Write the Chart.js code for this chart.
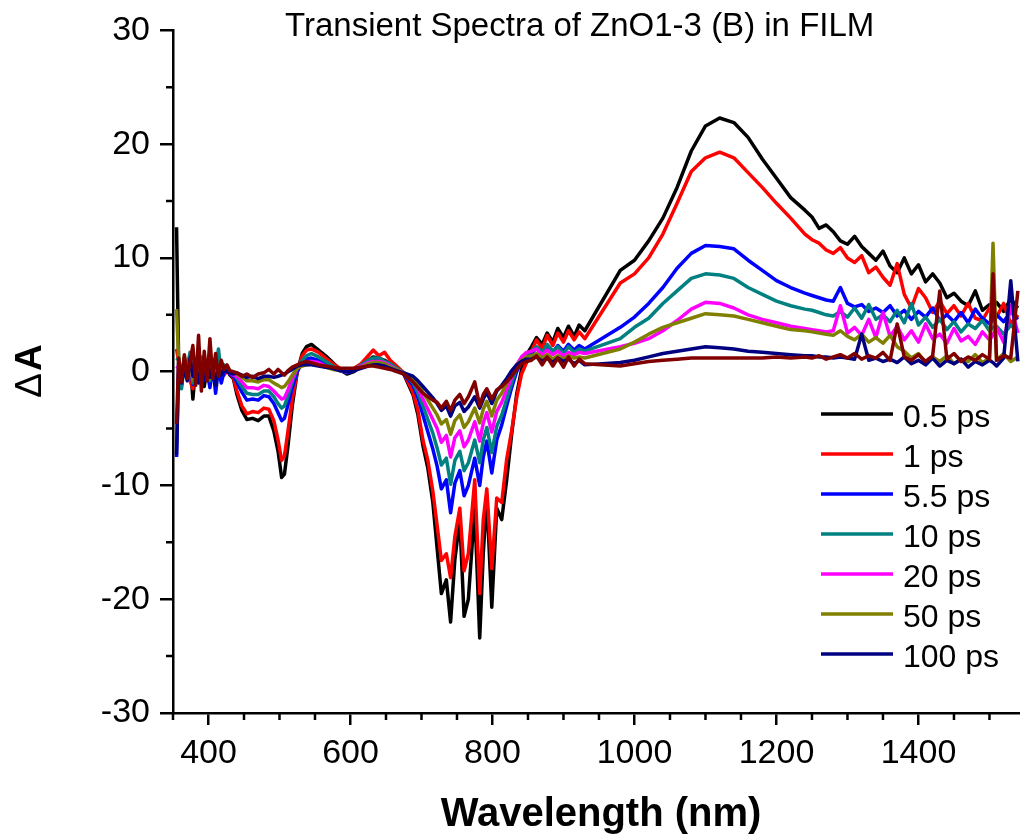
<!DOCTYPE html>
<html>
<head>
<meta charset="utf-8">
<title>Transient Spectra of ZnO1-3 (B) in FILM</title>
<script src="https://cdn.jsdelivr.net/npm/chart.js@4.4.1/dist/chart.umd.min.js"></script>
<style>
  body { margin: 0; background: #fff; }
</style>
</head>
<body>
<canvas id="spectra" width="1020" height="836"></canvas>
<script>
// wavelength grid (nm); no data between 930 and 980
const wavelengths = [
  355, 358, 362, 366, 370, 374, 378, 382, 386, 390, 394, 398, 402, 406, 410, 414, 418, 422, 426, 430, 435,
  440, 447, 454, 462, 470, 478, 485, 492, 498, 503, 507, 512, 518, 525, 532, 538, 545, 555, 565, 575, 585, 595, 605, 615, 625, 632, 640, 648, 656, 665, 675,
  688, 695, 702, 709, 716, 722, 728, 735, 741, 747, 754, 760, 766, 775, 782, 787, 792, 799, 806, 813, 820, 827, 834, 841, 848,
  855, 862, 870, 877, 885, 892, 900, 907, 915, 922, 930,
  980, 1000, 1020, 1040, 1060, 1080, 1100, 1120, 1140, 1160, 1180, 1200, 1220, 1240,
  1250, 1260, 1270, 1280, 1290, 1300, 1310, 1320, 1330, 1340, 1350, 1360, 1370, 1380, 1390, 1400, 1410, 1420, 1430, 1440, 1450, 1460, 1470, 1480, 1490, 1500, 1505, 1510, 1520, 1530, 1540
];

// delta A values for each delay
const ps0_5 = [
  12.7, 0.6, -1.2, 0.9, -0.4, 1.1, -2.4, 0.5, -0.9, 1.0, -1.3, 0.3, -0.7, 0.8, -0.4, 0.6, -0.6, 0.2, 0.3, -0.3, -0.6,
  -2.0, -3.4, -4.2, -4.1, -4.3, -3.9, -3.9, -5.2, -7.0, -9.3, -9.0, -6.5, -3.0, 0.0, 1.6, 2.2, 2.4, 1.9, 1.4, 0.8, 0.2, -0.2, 0.0, 0.5, 1.0, 1.3, 1.2, 1.0, 0.7, 0.3, -0.2,
  -2.0, -3.8, -6.5, -8.5, -11.5, -15.5, -19.5, -18.3, -22.0, -16.5, -13.0, -21.5, -20.0, -12.0, -23.4, -16.0, -11.0, -20.7, -12.0, -13.0, -9.5, -5.5, -2.0, 0.2, 1.5,
  2.2, 3.0, 2.4, 3.4, 2.6, 3.8, 3.0, 4.0, 3.1, 4.1, 3.6,
  8.9, 9.8, 11.5, 13.5, 16.2, 19.4, 21.6, 22.3, 21.9, 20.6, 18.7, 17.0, 15.3, 14.2,
  13.6, 12.6, 12.9, 12.3, 11.5, 11.2, 11.9, 11.0, 10.4, 9.8, 10.6, 9.3, 8.7, 10.0, 8.6, 9.4, 7.9, 8.6, 7.8, 6.5, 6.9, 6.2, 5.8, 7.1, 5.4, 5.9, 5.7, 6.1, 5.3, 6.4, 5.6
];
const ps1 = [
  2.0, 0.9, -0.5, 1.2, 0.2, -0.8, -1.5, 1.0, 0.1, -0.9, 0.6, -0.4, 0.7, -0.5, 0.4, -0.2, 0.5, -0.3, 0.1, -0.2, -0.5,
  -1.7, -3.0, -3.7, -3.5, -3.6, -3.2, -3.3, -4.3, -6.0, -7.8, -7.4, -5.2, -2.4, 0.0, 1.4, 1.9, 2.0, 1.7, 1.2, 0.7, 0.3, 0.0, 0.3, 0.7, 1.4, 1.9, 1.4, 1.7, 1.0, 0.5, -0.1,
  -1.8, -3.4, -6.0, -7.8, -10.5, -13.5, -16.6, -16.0, -18.1, -14.5, -12.0, -17.5, -16.0, -9.5, -19.5, -13.0, -10.3, -17.3, -11.1, -11.5, -7.7, -5.2, -2.3, -0.2, 0.8,
  1.8, 2.8, 2.0, 3.2, 2.3, 3.4, 2.6, 3.6, 2.8, 3.5, 2.9,
  7.8, 8.6, 10.0, 12.1, 14.8, 17.6, 18.8, 19.3, 18.8, 17.5, 16.2, 14.8, 13.5, 12.1,
  11.6, 11.3, 10.7, 10.4, 10.9, 10.0, 9.6, 10.2, 8.7, 9.2, 8.3, 7.6, 9.5, 6.8, 5.6, 7.3, 6.5, 5.2, 6.2, 5.1, 5.8, 4.9, 6.0, 4.7, 4.5, 5.6, 5.2, 4.8, 6.0, 4.2, 5.0
];
const ps5_5 = [
  -7.5, 0.6, -1.2, 1.0, -0.5, 0.8, -1.1, 0.5, -0.3, 1.1, -0.7, 0.2, -1.4, 0.6, -1.9, 0.3, -1.0, 0.0, 0.2, -0.2, -0.4,
  -0.9, -1.8, -2.5, -2.4, -2.5, -2.1, -2.2, -2.8, -3.6, -4.3, -4.1, -2.9, -1.4, 0.0, 0.8, 1.1, 1.2, 1.0, 0.7, 0.4, 0.1, -0.1, 0.1, 0.5, 0.9, 1.0, 1.0, 0.8, 0.6, 0.2, -0.2,
  -1.2, -2.3, -3.8, -5.3, -6.8, -8.3, -10.3, -9.5, -12.4, -9.8, -8.7, -10.9, -10.0, -7.6, -10.0, -7.5, -6.1, -8.9, -6.0, -4.7, -3.0, -1.4, 0.0, 0.9, 1.5,
  1.6, 2.1, 1.6, 2.2, 1.7, 2.3, 1.8, 2.4, 1.9, 2.3, 2.0,
  3.9, 4.8, 6.0, 7.4, 9.1, 10.4, 11.1, 11.0, 10.8, 9.8, 8.9, 8.0, 7.4, 6.9,
  6.7, 6.5, 6.3, 6.2, 7.4, 6.0, 5.7, 5.9, 5.3, 5.6, 5.2, 5.8, 4.9, 5.4, 4.6, 5.3, 4.8, 5.6, 4.5, 5.0, 4.4, 5.2, 4.3, 5.5, 4.7, 4.2, 4.6, 5.0, 4.4, 5.3, 4.6
];
const ps10 = [
  1.0, 1.2, -1.5, 0.8, 0.4, 1.7, -1.0, 0.9, -0.6, 1.3, -0.2, 0.8, -0.8, 1.1, 0.2, 2.0, -0.3, 0.6, 0.3, 0.0, -0.2,
  -0.6, -1.3, -1.9, -2.0, -2.0, -1.7, -1.7, -2.2, -2.8, -3.2, -3.0, -2.1, -0.9, 0.3, 1.0, 1.4, 1.6, 1.3, 0.9, 0.5, 0.2, 0.0, 0.2, 0.6, 1.0, 1.2, 1.2, 0.9, 0.7, 0.3, -0.1,
  -1.0, -1.9, -3.0, -4.2, -5.4, -6.7, -8.2, -7.6, -9.9, -7.8, -7.0, -8.7, -8.0, -6.0, -8.0, -6.0, -4.9, -7.1, -4.8, -3.8, -2.4, -1.0, 0.3, 1.1, 1.6,
  1.8, 2.2, 1.7, 2.4, 1.8, 2.2, 1.6, 2.2, 1.7, 2.0, 1.8,
  2.9, 3.9, 4.7, 6.0, 7.1, 8.2, 8.6, 8.5, 8.2, 7.4, 6.8, 6.2, 5.8, 5.5,
  5.4, 5.2, 5.0, 4.9, 5.3, 4.8, 5.6, 4.7, 5.9, 4.6, 5.0, 4.4, 5.4, 4.3, 6.0, 4.1, 4.8, 3.9, 4.6, 3.7, 4.4, 3.5, 4.2, 3.8, 4.5, 3.6, 3.9, 4.0, 3.3, 4.1, 3.5
];
const ps20 = [
  0.5, 0.3, -0.8, 0.7, -0.3, 0.5, -0.6, 0.8, -0.2, 0.4, -0.5, 0.6, -0.3, 0.5, 0.0, 0.4, -0.2, 0.3, 0.1, -0.1, -0.3,
  -0.4, -0.9, -1.4, -1.4, -1.5, -1.2, -1.3, -1.7, -2.1, -2.4, -2.3, -1.6, -0.6, 0.3, 0.7, 0.9, 0.9, 0.8, 0.5, 0.3, 0.1, 0.0, 0.2, 0.5, 0.8, 0.9, 0.9, 0.8, 0.5, 0.2, -0.1,
  -0.8, -1.5, -2.4, -3.3, -4.2, -5.0, -6.2, -5.6, -7.5, -5.8, -5.2, -6.6, -6.0, -4.4, -6.1, -4.5, -3.6, -5.3, -3.5, -2.7, -1.6, -0.5, 0.6, 1.3, 1.7,
  1.8, 2.0, 1.5, 1.9, 1.5, 1.8, 1.4, 1.7, 1.5, 1.7, 1.6,
  2.2, 2.5, 2.9, 3.6, 4.5, 5.5, 6.1, 6.0, 5.6, 5.0, 4.6, 4.3, 4.0, 3.8,
  3.7, 3.6, 3.5, 3.6, 5.8, 3.4, 3.9, 3.2, 4.6, 3.0, 5.2, 3.1, 4.0, 2.8, 3.6, 2.6, 4.2, 2.9, 3.3, 2.5, 3.8, 2.7, 3.1, 2.4, 3.5, 2.8, 3.2, 3.9, 2.6, 5.8, 3.4
];
const ps50 = [
  5.5, 1.0, -0.4, 1.3, 0.2, 0.9, -0.7, 0.6, -0.9, 0.8, -0.2, 0.5, -0.6, 0.7, -0.3, 0.6, -0.1, 0.4, 0.2, 0.0, -0.1,
  -0.2, -0.5, -0.8, -0.8, -0.9, -0.7, -0.7, -1.0, -1.2, -1.4, -1.3, -0.9, -0.3, 0.3, 0.5, 0.6, 0.7, 0.6, 0.4, 0.2, 0.1, 0.0, 0.2, 0.4, 0.7, 0.8, 0.8, 0.7, 0.4, 0.2, -0.1,
  -0.6, -1.1, -1.8, -2.5, -3.2, -3.8, -4.6, -4.2, -5.5, -4.3, -3.8, -4.9, -4.4, -3.2, -4.5, -3.3, -2.6, -3.9, -2.5, -1.9, -1.0, -0.2, 0.6, 1.0, 1.3,
  1.4, 1.6, 1.2, 1.5, 1.1, 1.4, 1.1, 1.4, 1.2, 1.3, 1.2,
  2.0, 2.6, 3.3, 3.9, 4.3, 4.7, 5.1, 5.0, 4.9, 4.6, 4.3, 4.0, 3.7, 3.6,
  3.5, 3.4, 3.3, 3.2, 3.6, 3.1, 2.8, 3.3, 2.6, 3.0, 2.5, 3.2, 2.2, 1.8, 1.2, 1.6, 0.8, 1.3, 0.9, 1.4, 0.7, 1.1, 0.9, 1.5, 0.8, 1.2, 11.3, 1.0, 1.6, 0.9, 1.3
];
const ps100 = [
  -7.3, 0.9, -1.0, 0.4, -0.8, 1.2, -0.4, 0.6, -1.0, 0.3, -0.6, 0.8, -0.5, 0.4, -1.2, 0.5, -0.3, 0.2, 0.0, -0.1, -0.2,
  -0.1, -0.3, -0.5, -0.4, -0.6, -0.4, -0.4, -0.5, -0.4, -0.3, -0.2, 0.0, 0.2, 0.5, 0.6, 0.6, 0.6, 0.5, 0.4, 0.3, 0.1, 0.0, 0.1, 0.3, 0.5, 0.6, 0.6, 0.5, 0.3, 0.1, -0.1,
  -0.4, -0.8, -1.3, -1.8, -2.3, -2.8, -3.4, -3.0, -3.9, -3.0, -2.7, -3.5, -3.1, -2.2, -3.2, -2.4, -1.8, -2.8, -1.7, -1.2, -0.6, 0.1, 0.6, 0.9, 1.1,
  1.1, 1.3, 0.9, 1.2, 0.8, 1.2, 0.9, 1.1, 0.7, 1.0, 0.6,
  0.8, 1.0, 1.3, 1.6, 1.8, 2.0, 2.2, 2.1, 2.0, 1.8, 1.7, 1.6, 1.5, 1.4,
  1.4, 1.3, 1.3, 1.2, 1.3, 1.2, 1.1, 3.3, 1.0, 1.2, 0.9, 1.1, 0.8, 1.3, 0.7, 1.0, 0.6, 1.2, 0.5, 1.0, 0.7, 1.1, 0.4, 0.9, 0.6, 1.0, 0.8, 0.5, 1.2, 8.0, 0.9
];
// longest delay, drawn on top but not listed in the legend
const psLong = [
  -4.6, 1.2, -0.9, 1.5, -0.6, 0.9, 2.3, -1.2, 3.2, -1.7, 1.8, -0.8, 2.9, -0.6, 1.6, -0.4, 1.0, 0.2, 0.6, 0.1, 0.0,
  -0.1, -0.4, -0.2, -0.5, -0.2, -0.1, 0.2, -0.2, 0.2, -0.1, -0.3, 0.1, 0.4, 0.6, 0.8, 0.9, 0.8, 0.6, 0.5, 0.4, 0.3, 0.3, 0.3, 0.4, 0.5, 0.5, 0.4, 0.3, 0.2, 0.0, -0.2,
  -0.9, -1.4, -1.9, -2.2, -2.5, -2.7, -3.2, -2.6, -3.4, -2.5, -2.0, -2.8, -2.2, -0.9, -3.0, -2.0, -1.5, -2.4, -1.6, -1.3, -0.9, -0.4, 0.2, 0.7, 0.9,
  1.0, 1.4, 0.6, 1.3, 0.5, 1.2, 0.4, 1.3, 0.5, 1.1, 0.7,
  0.5, 0.7, 0.9, 1.0, 1.1, 1.2, 1.2, 1.2, 1.2, 1.2, 1.2, 1.3, 1.2, 1.3,
  1.2, 1.4, 1.1, 1.3, 1.5, 1.2, 1.6, 1.1, 1.4, 1.2, 1.7, 1.0, 4.2, 1.3, 1.0, 1.5, 0.9, 1.4, 7.1, 1.1, 1.6, 0.9, 1.3, 1.0, 1.5, 1.1, 8.6, 1.0, 1.4, 1.2, 7.1
];

const labels = ['0.5 ps', '1 ps', '5.5 ps', '10 ps', '20 ps', '50 ps', '100 ps', ''];
const colors = ['#000000', '#ff0000', '#0000ff', '#008080', '#ff00ff', '#808000', '#000080', '#800000'];
const values = [ps0_5, ps1, ps5_5, ps10, ps20, ps50, ps100, psLong];
const xTicks = [400, 600, 800, 1000, 1200, 1400];

const FONT = '"Liberation Sans", Arial, sans-serif';

// minor ticks, titles and the in-plot legend
const decorations = {
  id: 'decorations',
  afterDraw(chart) {
    const { ctx, chartArea: area, scales: { x, y } } = chart;
    ctx.save();
    ctx.strokeStyle = '#000';
    ctx.lineWidth = 2.5;
    ctx.beginPath();
    for (let v = 350; v <= 1540; v += 50) {
      if (v % 200 === 0) continue;
      const px = x.getPixelForValue(v);
      ctx.moveTo(px, area.bottom);
      ctx.lineTo(px, area.bottom + 7);
    }
    for (let v = -25; v <= 25; v += 10) {
      const py = y.getPixelForValue(v);
      ctx.moveTo(area.left, py);
      ctx.lineTo(area.left - 7, py);
    }
    ctx.stroke();

    ctx.fillStyle = '#000';
    ctx.textBaseline = 'alphabetic';

    // title
    ctx.font = '33px ' + FONT;
    ctx.textAlign = 'left';
    ctx.fillText('Transient Spectra of ZnO1-3 (B) in FILM', 285, 36);

    // x axis title
    ctx.font = 'bold 40px ' + FONT;
    ctx.textAlign = 'center';
    ctx.fillText('Wavelength (nm)', 601, 826);

    // y axis title: thin delta, bold A
    ctx.save();
    ctx.translate(41, 371);
    ctx.rotate(-Math.PI / 2);
    ctx.textAlign = 'left';
    ctx.font = '37px ' + FONT;
    const dW = ctx.measureText('\u0394').width;
    ctx.font = 'bold 37px ' + FONT;
    const aW = ctx.measureText('A').width;
    const start = -(dW + 2 + aW) / 2;
    ctx.font = '37px ' + FONT;
    ctx.fillText('\u0394', start, 0);
    ctx.font = 'bold 37px ' + FONT;
    ctx.fillText('A', start + dW + 2, 0);
    ctx.restore();

    // legend
    ctx.font = '32px ' + FONT;
    ctx.textAlign = 'left';
    ctx.lineWidth = 3.5;
    labels.forEach((label, i) => {
      if (!label) return;
      const ly = 414 + i * 40;
      ctx.strokeStyle = colors[i];
      ctx.beginPath();
      ctx.moveTo(821, ly);
      ctx.lineTo(893, ly);
      ctx.stroke();
      ctx.fillText(label, 903, ly + 12.5);
    });
    ctx.restore();
  }
};

new Chart(document.getElementById('spectra'), {
  type: 'line',
  data: {
    datasets: values.map((vals, i) => ({
      label: labels[i],
      data: wavelengths.map((w, j) => ({ x: w, y: vals[j] })),
      borderColor: colors[i],
      backgroundColor: colors[i],
      borderWidth: 3.5,
      borderJoinStyle: 'round',
      pointRadius: 0,
      tension: 0,
      order: values.length - i
    }))
  },
  options: {
    responsive: false,
    animation: false,
    layout: { padding: { top: 29, right: 0, left: 0, bottom: 0 } },
    plugins: {
      legend: { display: false },
      tooltip: { enabled: false },
      title: { display: false }
    },
    scales: {
      x: {
        type: 'linear',
        min: 350,
        max: 1543,
        afterBuildTicks: (scale) => { scale.ticks = xTicks.map(v => ({ value: v })); },
        afterFit: (scale) => { scale.height = 123; },
        grid: { display: true, drawOnChartArea: false, color: '#000', lineWidth: 2.5, tickLength: 12 },
        border: { display: true, color: '#000', width: 2.5 },
        ticks: { color: '#000', font: { family: FONT, size: 34, lineHeight: 1.2 }, padding: 8, maxRotation: 0, callback: (v) => String(v) }
      },
      y: {
        min: -30,
        max: 30,
        afterFit: (scale) => { scale.width = 173; },
        grid: { display: true, drawOnChartArea: false, color: '#000', lineWidth: 2.5, tickLength: 13 },
        border: { display: true, color: '#000', width: 2.5 },
        ticks: { stepSize: 10, color: '#000', font: { family: FONT, size: 34, lineHeight: 1.2 }, padding: 10, callback: (v) => String(v) }
      }
    }
  },
  plugins: [decorations]
});
</script>
</body>
</html>
